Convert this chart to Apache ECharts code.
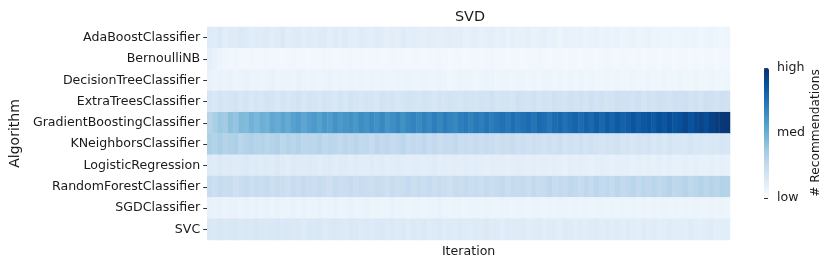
<!DOCTYPE html>
<html>
<head>
<meta charset="utf-8">
<script src="https://cdn.jsdelivr.net/npm/echarts@6/dist/echarts.min.js"></script>
<style>
html,body{margin:0;padding:0;background:#fff;}
#chart{width:831px;height:265px;}
</style>
</head>
<body>
<div id="chart"></div>
<script>
var algorithms = ["AdaBoostClassifier","BernoulliNB","DecisionTreeClassifier","ExtraTreesClassifier","GradientBoostingClassifier","KNeighborsClassifier","LogisticRegression","RandomForestClassifier","SGDClassifier","SVC"];
var colorbarLabels = {0:"low",50:"med",100:"high"};

var adaBoost = [13,12,14,11,13,12,14,13,11,12, 12,13,11,12,14,11,12,13,11,12, 11,12,13,10,12,11,13,11,10,12, 11,10,12,11,9,11,10,12,10,11, 10,9,11,10,9,10,11,9,10,8, 9,10,8,9,10,8,9,7,9,8, 8,9,7,8,9,7,8,6,8,7, 7,8,6,7,8,6,7,6,7,5, 6,7,5,6,7,5,6,5,6,5, 5,6,5,6,4,5,6,5,4,5];
var bernoulliNB = [9,7,5,4,3,4,3,3,4,3, 3,4,3,3,2,3,4,3,3,2, 3,3,4,3,2,3,3,4,3,3, 2,3,3,2,3,4,3,3,2,3, 3,2,3,3,4,3,2,3,3,2, 3,3,2,3,4,3,3,2,3,3, 2,3,3,4,3,2,3,3,2,3, 3,2,3,3,2,3,4,3,2,3, 3,2,3,2,3,3,2,3,3,2, 3,3,2,3,2,3,3,2,3,3];
var decisionTree = [7,6,7,6,7,5,6,7,6,6, 5,6,7,5,6,6,5,7,6,5, 6,5,6,7,5,6,5,6,5,6, 5,6,5,6,5,5,6,5,6,5, 5,6,5,5,6,5,4,5,6,5, 5,4,5,6,5,4,5,5,4,5, 5,4,5,4,5,5,4,5,4,5, 4,5,4,5,4,4,5,4,5,4, 4,5,4,4,5,4,4,5,4,4, 5,4,4,5,4,4,5,4,4,5];
var extraTrees = [17,15,18,16,17,19,16,18,15,17, 16,18,17,15,18,16,17,19,16,18, 17,16,18,17,15,18,16,19,17,16, 18,17,16,19,17,18,16,17,19,18, 17,19,18,16,18,17,19,18,17,19, 18,17,19,18,20,17,18,19,17,20, 19,18,20,17,19,18,20,19,18,20, 19,20,18,21,19,20,18,19,21,20, 20,19,21,18,20,19,21,20,19,21, 20,21,19,20,18,21,20,19,21,20];
var gradientBoosting = [30,34,38,36,42,40,45,44,48,46, 50,48,53,51,55,52,56,58,54,57, 59,56,60,58,62,59,61,63,60,64, 62,65,63,66,61,64,67,63,66,68, 65,69,66,70,67,71,68,66,70,72, 69,72,70,74,71,73,75,72,76,73, 75,77,74,78,76,73,77,79,75,78, 80,77,81,78,82,79,83,80,84,81, 83,86,82,85,87,84,88,85,89,86, 88,91,87,90,92,89,93,95,97,98];
var kNeighbors = [33,31,34,30,32,33,29,31,32,30, 31,29,30,32,28,30,29,31,28,29, 28,30,27,29,28,26,28,27,29,26, 27,25,28,26,27,25,26,28,24,26, 25,27,24,26,23,25,24,26,23,24, 23,25,22,24,23,21,23,22,24,21, 22,20,22,21,19,21,20,22,19,20, 19,21,18,20,19,17,19,18,20,17, 18,16,18,17,19,16,17,15,18,16, 16,15,17,15,16,14,16,15,17,16];
var logisticRegression = [13,12,14,12,13,12,13,14,12,13, 12,13,12,14,12,11,13,12,12,13, 12,11,12,13,11,12,12,11,12,11, 11,12,11,12,10,11,12,11,10,11, 11,10,11,12,10,11,10,11,10,11, 10,11,10,9,11,10,10,9,10,11, 10,9,10,9,10,9,10,9,8,10, 9,10,9,8,9,10,9,8,9,9, 9,8,9,8,9,8,9,8,9,8, 8,9,8,9,8,8,9,8,9,8];
var randomForest = [24,22,25,23,24,21,23,25,22,24, 23,25,22,24,23,21,24,22,25,23, 22,24,23,21,24,22,23,25,22,24, 23,22,24,23,21,24,22,23,25,22, 24,23,25,22,24,23,21,24,23,25, 23,24,22,25,23,24,26,23,25,24, 25,23,26,24,25,27,24,26,25,27, 26,24,27,25,28,26,27,25,28,26, 27,29,26,28,27,29,26,28,30,27, 28,30,27,29,31,28,30,29,31,30];
var sgd = [8,7,7,6,7,7,6,7,6,7, 6,7,6,7,6,6,7,6,7,6, 6,7,6,6,7,6,6,7,6,6, 7,6,6,5,6,7,6,6,5,6, 6,5,6,6,7,6,5,6,6,5, 6,6,5,6,6,5,6,6,5,6, 6,5,6,6,5,6,5,6,6,5, 6,5,6,5,6,6,5,6,5,6, 5,6,5,6,5,6,5,6,5,6, 5,6,5,6,5,5,6,5,6,5];
var svc = [15,14,16,14,15,16,14,15,14,16, 15,14,15,16,14,15,14,15,13,15, 14,15,13,14,15,14,13,15,14,13, 14,13,14,15,13,14,13,14,12,14, 13,14,12,13,14,12,13,12,14,13, 12,13,12,14,12,13,11,13,12,12, 13,11,12,13,11,12,12,11,13,12, 11,12,11,12,13,11,12,11,12,11, 12,11,10,12,11,12,10,11,12,11, 11,10,12,11,10,11,12,10,11,11];

var rows = [adaBoost, bernoulliNB, decisionTree, extraTrees, gradientBoosting, kNeighbors, logisticRegression, randomForest, sgd, svc];
var iterations = adaBoost.map(function(_, i){ return String(i + 1); });
var data = [];
rows.forEach(function(r, yi){ r.forEach(function(v, xi){ data.push([xi, yi, v]); }); });

var txt = '#1a1a1a';
var font = 'DejaVu Sans';
var fs = 12.6;
var chart = echarts.init(document.getElementById('chart'), null, {renderer:'canvas'});
chart.setOption({
  animation: false,
  backgroundColor: '#fff',
  title: {text: 'SVD', left: 465, top: 5, textAlign: 'center', textStyle: {fontFamily: font, fontSize: 14.4, fontWeight: 'normal', color: txt}},
  grid: [
    {left: 199, top: 27, width: 531, height: 213},
    {left: 764, top: 68, width: 10, height: 130}
  ],
  xAxis: [
    {type: 'category', data: iterations, gridIndex: 0, axisLine:{show:false}, axisTick:{show:false}, axisLabel:{show:false}, splitLine:{show:false},
     name: 'Iteration', nameLocation: 'middle', nameGap: 5, nameTextStyle:{fontFamily: font, fontSize: fs, color: txt}},
    {type: 'value', gridIndex: 1, show: false, min: 0, max: 1}
  ],
  yAxis: [
    {type: 'category', data: algorithms, inverse: true, gridIndex: 0, axisLine:{show:false},
     axisTick:{show:true, length:4, alignWithLabel:true, lineStyle:{color:'#333'}},
     axisLabel:{fontFamily: font, fontSize: fs, color: txt, margin: 7}, splitLine:{show:false},
     name: 'Algorithm', nameLocation: 'middle', nameGap: 181, nameRotate: 90, nameTextStyle:{fontFamily: font, fontSize: 14, color: txt}},
    {type: 'value', gridIndex: 1, min: 0, max: 100, interval: 50, position: 'right', axisLine:{show:false},
     axisTick:{show:true, length:4, lineStyle:{color:'#333'}}, splitLine:{show:false},
     axisLabel:{fontFamily: font, fontSize: fs, color: txt, margin: 3, formatter: function(v){ return colorbarLabels[v] || ''; }},
     name: '# Recommendations', nameLocation: 'middle', nameRotate: 90, nameGap: 36, nameTextStyle:{fontFamily: font, fontSize: 12.2, color: txt}}
  ],
  visualMap: {
    type: 'continuous', min: 0, max: 100, seriesIndex: 0, orient: 'vertical',
    left: 764, top: 68, itemWidth: 5, itemHeight: 130, padding: 0, text: null, showLabel: false, calculable: false,
    inRange: {color: ['#f7fbff','#deebf7','#c6dbef','#9ecae1','#6baed6','#4292c6','#2171b5','#08519c','#08306b']}
  },
  series: [{type: 'heatmap', xAxisIndex: 0, yAxisIndex: 0, data: data, itemStyle:{borderWidth:0}, emphasis:{disabled:true}}]
});
</script>
</body>
</html>
